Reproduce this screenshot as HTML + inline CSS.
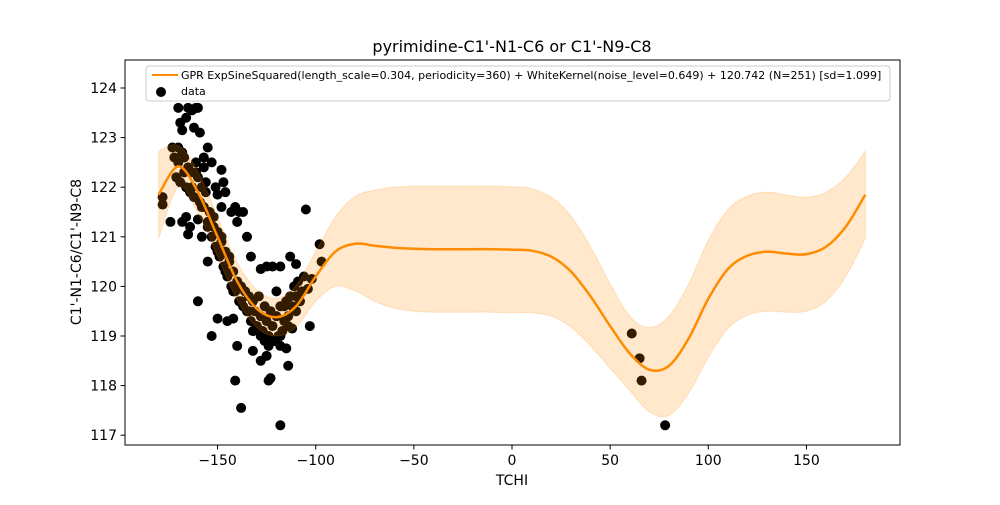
<!DOCTYPE html>
<html><head><meta charset="utf-8"><style>
body{margin:0;background:#fff;font-family:"Liberation Sans","DejaVu Sans",sans-serif}
svg text{font-family:"DejaVu Sans","Liberation Sans",sans-serif}
</style></head><body>
<svg id="chart" width="1000" height="500" viewBox="0 0 1000 500" xmlns="http://www.w3.org/2000/svg">
<rect width="1000" height="500" fill="#fff"/>
<g id="marks"></g>
<rect x="125" y="60" width="775" height="385" fill="none" stroke="#000" stroke-width="1"/>
<g id="axes"></g>
<text x="512" y="52" text-anchor="middle" font-size="16">pyrimidine-C1'-N1-C6 or C1'-N9-C8</text>
<text x="512" y="485" text-anchor="middle" font-size="14">TCHI</text>
<text transform="translate(81,252) rotate(-90)" text-anchor="middle" font-size="14">C1'-N1-C6/C1'-N9-C8</text>
<g>
<rect x="146" y="66" width="744" height="35" rx="3" fill="#fff" fill-opacity="0.8" stroke="#ccc"/>
<line x1="152" y1="75" x2="178" y2="75" stroke="#ff8c00" stroke-width="2"/>
<text x="181" y="79" font-size="11">GPR ExpSineSquared(length_scale=0.304, periodicity=360) + WhiteKernel(noise_level=0.649) + 120.742 (N=251) [sd=1.099]</text>
<circle cx="161" cy="92" r="5" fill="#000"/>
<text x="181" y="95" font-size="11">data</text>
</g>
</svg>
<script>
const xs=[-180,-170,-160,-150,-140,-130,-120,-110,-100,-90,-80,-70,-60,-50,-40,-30,-20,-10,0,10,20,30,40,50,60,70,80,90,100,110,120,130,140,150,160,170,180];
const meanVals=[121.85,122.42,121.9,121.0,120.1,119.55,119.38,119.6,120.2,120.7,120.86,120.82,120.78,120.76,120.75,120.75,120.75,120.75,120.74,120.72,120.6,120.3,119.8,119.2,118.65,118.32,118.4,118.95,119.75,120.35,120.62,120.7,120.66,120.65,120.8,121.2,121.85];
const halfWidth=[0.88,0.42,0.42,0.4,0.38,0.38,0.38,0.42,0.5,0.7,0.95,1.12,1.22,1.26,1.27,1.27,1.27,1.27,1.27,1.25,1.2,1.12,1.0,0.85,0.75,0.85,1.0,1.1,1.18,1.2,1.2,1.2,1.18,1.15,1.1,1.0,0.88];
const ptX=[-178,-178,-174,-173,-170,-169,-168,-166,-165,-163,-161,-160,-162,-159,-157,-157,-155,-153,-151,-150,-148,-147,-146,-148,-143,-141,-139,-137,-140,-135,-133,-128,-125,-122,-118,-113,-110,-105,-98,-97,-102,-104,-103,-112,-115,-118,-114,-124,-123,-125,-128,-132,-140,-142,-145,-150,-153,-160,-155,-141,-138,-118,-164,-165,-168,-166,-160,-158,61,65,66,78,
-172,-171,-170,-169,-168,-167,-166,-165,-164,-163,-162,-161,-160,-159,-158,-157,-156,-155,-154,-153,-152,-151,-150,-149,-148,-147,-146,-145,-144,-143,-142,-141,-140,-139,-138,-137,-136,-135,-134,-133,-132,-131,-130,-129,-128,-127,-126,-125,-124,-123,-122,-121,-120,-119,-118,-117,-116,-115,-114,-113,-112,-111,-110,-109,-108,-107,-106,-170,-167,-163,-158,-155,-150,-146,-142,-138,-134,-130,-126,-122,-118,-114,-110,-161,-152,-144,-136,-128,-120,-116,-124,-132,-148,-156];
const ptY=[121.8,121.65,121.3,122.8,123.6,123.3,123.15,123.4,123.6,123.55,123.6,123.6,123.2,123.1,122.4,122.6,122.8,122.5,122.0,121.85,122.35,122.1,121.9,121.6,121.5,121.6,121.5,121.5,121.3,121.0,120.6,120.35,120.4,120.4,120.4,120.6,120.45,121.55,120.85,120.5,120.15,119.95,119.2,119.15,118.75,118.8,118.4,118.1,118.15,118.6,118.5,118.7,118.8,119.35,119.3,119.35,119.0,119.7,120.5,118.1,117.55,117.2,121.2,121.05,121.3,121.4,121.35,121.0,119.05,118.55,118.1,117.2,
122.6,122.2,122.5,122.1,122.7,122.3,122.0,122.4,121.9,122.3,121.8,122.5,122.2,121.7,122.0,121.6,121.9,121.3,121.5,121.0,121.2,120.8,121.1,120.6,120.9,120.4,120.7,120.2,120.5,120.0,120.3,119.9,120.1,119.7,120.0,119.6,119.9,119.5,119.8,119.3,119.7,119.5,119.2,119.8,119.4,119.1,119.6,119.3,119.0,119.5,119.2,118.9,119.4,119.0,119.6,119.1,119.3,119.7,119.4,119.8,119.6,120.0,119.8,120.1,119.7,119.9,120.2,122.8,122.6,122.0,121.6,121.2,120.7,120.3,119.9,119.7,119.5,119.2,118.9,118.9,119.0,119.2,119.5,122.3,121.4,120.6,119.9,119.0,119.9,119.6,118.8,119.1,121.0,122.1];
const xTicks=[-150,-100,-50,0,50,100,150];
const yTicks=[117,118,119,120,121,122,123,124];
const X=v=>512+v*1.963, Y=v=>88+(124-v)*49.6;
const NS='http://www.w3.org/2000/svg';
const marks=document.getElementById('marks'), axes=document.getElementById('axes');
function mk(t,a,p){const e=document.createElementNS(NS,t);for(const k in a)e.setAttribute(k,a[k]);(p||marks).appendChild(e);return e;}
for(let i=0;i<ptX.length;i++){
 const c=mk('circle',{cx:X(ptX[i]),cy:Y(ptY[i]),r:5,fill:'#000'});
 
 
}
function smooth(pts){let d='M'+pts[0][0]+','+pts[0][1];
 for(let i=0;i<pts.length-1;i++){const p0=pts[Math.max(0,i-1)],p1=pts[i],p2=pts[i+1],p3=pts[Math.min(pts.length-1,i+2)];
  d+=' C'+(p1[0]+(p2[0]-p0[0])/6)+','+(p1[1]+(p2[1]-p0[1])/6)+' '+(p2[0]-(p3[0]-p1[0])/6)+','+(p2[1]-(p3[1]-p1[1])/6)+' '+p2[0]+','+p2[1];}
 return d;}
const up=xs.map((x,i)=>[X(x),Y(meanVals[i]+halfWidth[i])]);
const lo=xs.map((x,i)=>[X(x),Y(meanVals[i]-halfWidth[i])]).reverse();
const bandD=smooth(up)+' L'+lo[0][0]+','+lo[0][1]+smooth(lo).slice(smooth(lo).indexOf(' C'))+' Z';
const band=mk('path',{d:bandD,fill:'#ff8c00','fill-opacity':0.2,stroke:'#ff8c00','stroke-opacity':0.2});


const line=mk('path',{d:smooth(xs.map((x,i)=>[X(x),Y(meanVals[i])])),fill:'none',stroke:'#ff8c00','stroke-width':2.5});


xTicks.forEach(v=>{const t=mk('line',{x1:X(v),x2:X(v),y1:445,y2:449.5,stroke:'#000'},axes);
 
 
 const l=mk('text',{x:X(v),y:465,'text-anchor':'middle','font-size':14},axes);l.textContent=(v<0?'\u2212'+(-v):v);
 
 });
yTicks.forEach(v=>{const t=mk('line',{x1:120.5,x2:125,y1:Y(v),y2:Y(v),stroke:'#000'},axes);
 
 
 const l=mk('text',{x:117,y:Y(v)+5,'text-anchor':'end','font-size':14},axes);l.textContent=v;
 
 });
</script>
</body></html>
